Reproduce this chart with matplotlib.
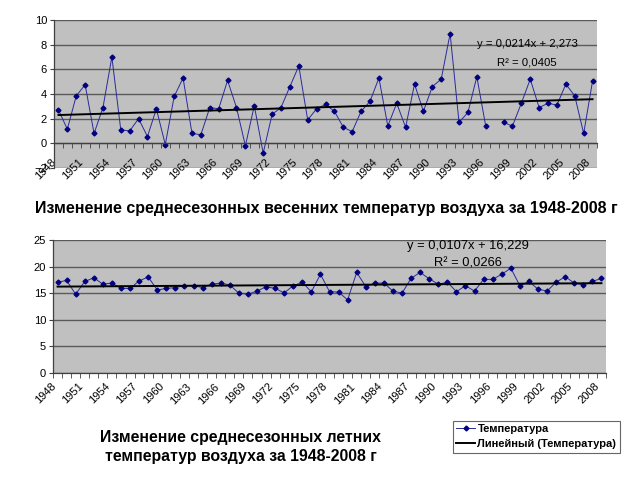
import numpy as np
import matplotlib
matplotlib.use("Agg")
from matplotlib import pyplot as plt

plt.rcParams['font.family'] = ['Liberation Sans', 'DejaVu Sans']

###   data   ###
years = list(range(1948, 2009))
label_years = list(range(1948, 2009, 3))

spring = [2.7, 1.15, 3.85, 4.75, 0.8, 2.9, 7.0, 1.1, 1.0, 2.0,
          0.55, 2.8, -0.1, 3.8, 5.3, 0.8, 0.7, 2.9, 2.8, 5.1,
          2.9, -0.2, 3.05, -0.8, 2.35, 2.9, 4.6, 6.27, 1.9, 2.8,
          3.15, 2.6, 1.3, 0.95, 2.6, 3.4, 5.3, 1.4, 3.25, 1.3,
          4.8, 2.6, 4.6, 5.2, 8.9, 1.7, 2.5, 5.4, 1.4, np.nan,
          1.7, 1.4, 3.25, 5.2, 2.9, 3.25, 3.1, 4.8, 3.85, 0.8, 5.05]

summer = [17.06, 17.4, 14.8, 17.2, 17.9, 16.7, 16.9, 15.9, 15.9, 17.3,
          18.06, 15.6, 15.9, 16.06, 16.4, 16.4, 16.06, 16.7, 16.9, 16.56,
          15.0, 14.8, 15.4, 16.2, 15.9, 15.06, 16.4, 17.06, 15.25, 18.56,
          15.3, 15.2, 13.75, 18.9, 16.25, 16.9, 16.9, 15.4, 15.0, 17.8,
          18.9, 17.7, 16.7, 17.06, 15.3, 16.4, 15.4, 17.6, 17.6, 18.56,
          19.7, 16.4, 17.2, 15.75, 15.4, 17.06, 18.1, 16.9, 16.56, 17.2, 17.8]

spring_trend = (0.0214, 2.273)
summer_trend = (0.0107, 16.229)

title_spring = "Изменение среднесезонных весенних температур воздуха за 1948-2008 г"
title_summer = "Изменение среднесезонных летних\nтемператур воздуха за 1948-2008 г"
legend_labels = ["Температура", "Линейный (Температура)"]

GRAY = "#c0c0c0"
NAVY = "#000080"
LINE = "#2a2a9a"
GRID = "#5a5a5a"

x = np.arange(1, len(years) + 1)


def setup_axes(ax, ylo, yhi, ystep, label_pad, ysize):
    ax.set_facecolor(GRAY)
    ax.set_xlim(0.5, len(years) + 0.5)
    ax.set_ylim(ylo, yhi)
    ax.set_yticks(np.arange(ylo, yhi + 0.1, ystep))
    ax.yaxis.grid(True, color=GRID, linewidth=1.0)
    ax.set_axisbelow(True)
    for s in ['top', 'right']:
        ax.spines[s].set_visible(False)
    ax.spines['left'].set_color("#404040")
    ax.spines['bottom'].set_color("#404040")
    ax.spines['left'].set_linewidth(0.9)
    ax.spines['bottom'].set_linewidth(0.9)
    # labels at category centres, tick marks at category borders
    ax.set_xticks([years.index(y) + 1 for y in label_years])
    ax.set_xticklabels([str(y) for y in label_years], rotation=45, ha='right')
    ax.set_xticks(np.arange(0.5, len(years) + 1, 1.0), minor=True)
    ax.tick_params(axis='x', which='major', length=0, pad=label_pad, labelsize=8)
    ax.tick_params(axis='x', which='minor', length=3.5, direction='out', color="#404040")
    ax.tick_params(axis='y', length=3, direction='out', color="#404040", labelsize=ysize, pad=2)


fig = plt.figure(figsize=(6.4, 4.8), dpi=100)

###   spring chart   ###
ax1 = fig.add_axes([54 / 640, 1 - 168 / 480, 543 / 640, 148 / 480])
ax1.spines['bottom'].set_position(('data', 0))
setup_axes(ax1, -2, 10, 2, 10, 8)
ax1.plot(x, spring, color=LINE, linewidth=0.7, marker='D', markersize=2.5,
         markerfacecolor=NAVY, markeredgecolor=NAVY)
ax1.plot(x, spring_trend[0] * x + spring_trend[1], color='black', linewidth=1.4)
ax1.text(0.871, 0.838, "y = 0,0214x + 2,273", transform=ax1.transAxes,
         ha='center', va='center', fontsize=8.2)
ax1.text(0.871, 0.716, "R² = 0,0405", transform=ax1.transAxes,
         ha='center', va='center', fontsize=8.2)

fig.text(326 / 640, 1 - 209 / 480, title_spring, ha='center', va='center',
         fontsize=11.5, fontweight='bold')

###   summer chart   ###
ax2 = fig.add_axes([53 / 640, 1 - 373 / 480, 553 / 640, 133 / 480])
setup_axes(ax2, 0, 25, 5, 6, 8)
l1, = ax2.plot(x, summer, color=LINE, linewidth=0.7, marker='D', markersize=2.5,
               markerfacecolor=NAVY, markeredgecolor=NAVY)
l2, = ax2.plot(x, summer_trend[0] * x + summer_trend[1], color='black', linewidth=1.4)
ax2.text(0.750, 0.955, "y = 0,0107x + 16,229", transform=ax2.transAxes,
         ha='center', va='center', fontsize=9.3)
ax2.text(0.750, 0.82, "R² = 0,0266", transform=ax2.transAxes,
         ha='center', va='center', fontsize=9.3)

fig.text(241 / 640, 1 - 447 / 480, title_summer, ha='center', va='center',
         fontsize=11.4, fontweight='bold', linespacing=1.3)

leg = fig.legend([l1, l2], legend_labels, loc='upper left',
                 bbox_to_anchor=(453 / 640, 1 - 421 / 480), frameon=True,
                 fancybox=False, edgecolor='#404040', fontsize=8,
                 handlelength=1.7, handletextpad=0.2, borderpad=0.3,
                 labelspacing=0.45, borderaxespad=0)
leg.get_frame().set_linewidth(0.8)
for t in leg.get_texts():
    t.set_fontweight('bold')

fig.savefig("out.png", dpi=100)
